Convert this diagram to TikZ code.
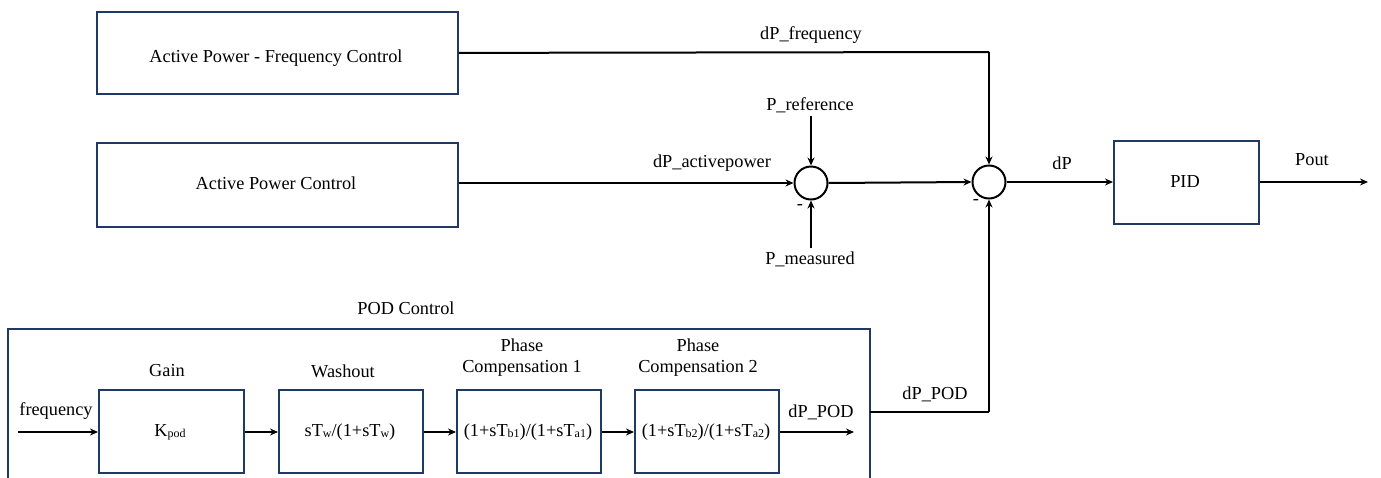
\documentclass[tikz,border=0pt]{standalone}
\usepackage{fontspec}
\setmainfont{Liberation Serif}
\usetikzlibrary{arrows.meta}
\definecolor{boxblue}{HTML}{1F3864}
\newcommand{\lowsub}[1]{\raisebox{-0.15ex}{\fontsize{12}{13}\selectfont #1}}
\begin{document}
\begin{tikzpicture}[x=1pt,y=-1pt,
  every node/.style={font=\fontsize{18.3}{21}\selectfont},
  blk/.style={draw=boxblue,line width=1.8pt,inner sep=0pt,anchor=north west},
  sumj/.style={circle,draw=black,line width=2pt,minimum size=33pt,inner sep=0pt},
  sig/.style={line width=2pt,-{Stealth[length=8pt,width=7pt]}},
  wire/.style={line width=2pt}]
\useasboundingbox (0,0) rectangle (1381,477);
% top boxes
\node[blk,minimum width=361pt,minimum height=82pt] (apf) at (96,11) {};
\node at (276,58) {Active Power - Frequency Control};
\node[blk,minimum width=361pt,minimum height=84pt] (apc) at (96,142) {};
\node at (276,183) {Active Power Control};
% summing junctions
\node[sumj] (s1) at (811,183) {};
\node[sumj] (s2) at (989,182) {};
\node (pref) at (810,105) {P\_reference};
\node (pmeas) at (810,259) {P\_measured};
\node at (800,207) {-};
\node at (976,202) {-};
\draw[sig] (s1.north |- pref.south) -- (s1.north);
\draw[sig] (s1.south |- pmeas.north) -- (s1.south);
\draw[sig] (apc.east |- s1) -- (s1.west);
\node at (712,163) {dP\_activepower};
\draw[sig] (s1.east) -- (s2.west);
% dP_frequency
\coordinate (fc) at (989,52);
\draw[wire] (apf.east) -- (fc);
\draw[sig] (fc) -- (s2.north);
\node at (811,35) {dP\_frequency};
% PID
\node[blk,minimum width=145pt,minimum height=83pt] (pid) at (1113,140) {};
\node at (1185,182) {PID};
\draw[sig] (s2.east) -- (pid.west |- s2);
\node at (1062,163) {dP};
\coordinate (pend) at (1368,182);
\draw[sig] (pid.east |- s2) -- (pend);
\node at (1312,160) {Pout};
% POD control
\coordinate (oA) at (8,478);
\coordinate (oB) at (8,329);
\coordinate (oC) at (870,329);
\coordinate (oD) at (870,478);
\draw[draw=boxblue,line width=1.8pt] (oA) -- (oB) -- (oC) -- (oD);
\node at (406,308) {POD Control};
\node[blk,minimum width=145pt,minimum height=83pt] (gain) at (98,389) {};
\node at (170,432) {K\lowsub{pod}};
\node at (167,371) {Gain};
\node[blk,minimum width=144pt,minimum height=83pt] (wash) at (278,389) {};
\node at (350,432) {sT\lowsub{w}/(1+sT\lowsub{w})};
\node at (343,371) {Washout};
\node[blk,minimum width=144pt,minimum height=83pt] (pc1) at (456,389) {};
\node at (528,432) {(1+sT\lowsub{b1})/(1+sT\lowsub{a1})};
\node[align=center] at (522,358) {Phase\\Compensation 1};
\node[blk,minimum width=144pt,minimum height=83pt] (pc2) at (634,389) {};
\node at (706,432) {(1+sT\lowsub{b2})/(1+sT\lowsub{a2})};
\node[align=center] at (698,358) {Phase\\Compensation 2};
\coordinate (fin) at (18,432);
\draw[sig] (fin) -- (gain.west |- fin);
\node at (56,411) {frequency};
\draw[sig] (gain.east |- fin) -- (wash.west |- fin);
\draw[sig] (wash.east |- fin) -- (pc1.west |- fin);
\draw[sig] (pc1.east |- fin) -- (pc2.west |- fin);
\coordinate (pout) at (854,432);
\draw[sig] (pc2.east |- fin) -- (pout);
\node at (821,412) {dP\_POD};
\coordinate (pst) at (870,412);
\coordinate (pc) at (989,412);
\draw[wire] (pst) -- (pc);
\draw[sig] (pc) -- (s2.south);
\node at (935,394) {dP\_POD};
\end{tikzpicture}
\end{document}
